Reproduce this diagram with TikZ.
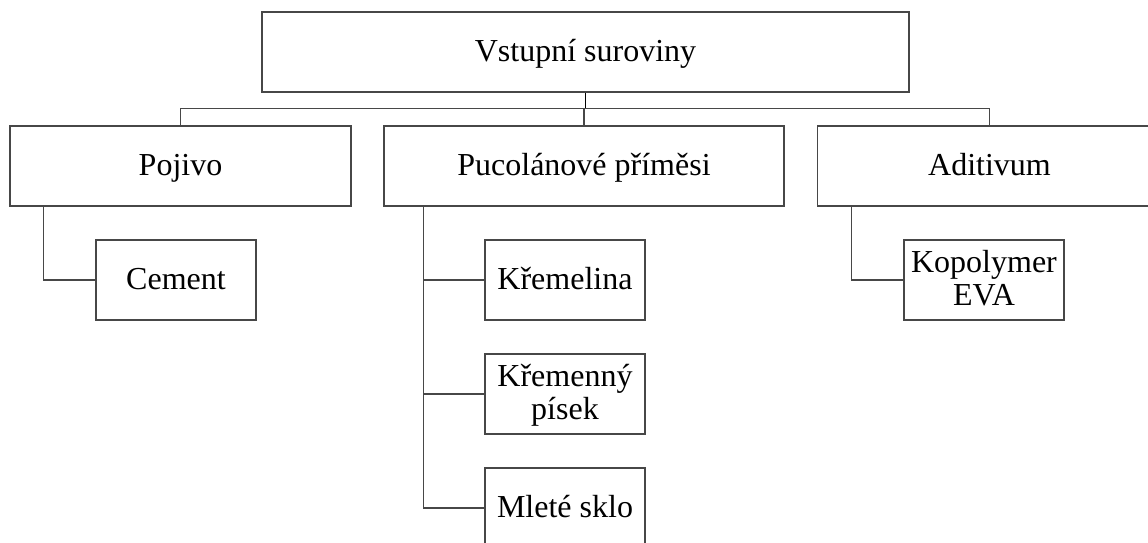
\documentclass[tikz,border=0pt]{standalone}
\usepackage{fontspec}
\setmainfont{Liberation Serif}
\begin{document}
\begin{tikzpicture}[x=1pt,y=-1pt,
  box/.style={draw=black!72, line width=1.1pt, rectangle, inner sep=0pt,
    minimum height=80pt, align=center, text=black,
    text height=24pt, text depth=6pt,
    font=\fontsize{32}{33.5}\selectfont},
  twoline/.style={text height=57.5pt},
  conn/.style={draw=black!72, line width=1.1pt},
  trunk/.style={draw=black, line width=1.6pt}]
\useasboundingbox (0,0) rectangle (1148,542);
\node[box, minimum width=647pt] (Top) at (585.5,52) {Vstupní suroviny};
\node[box, minimum width=341pt] (Pojivo) at (180.5,166) {Pojivo};
\node[box, minimum width=400pt] (Pucol) at (584,166) {Pucolánové příměsi};
\node[box, minimum width=344pt] (Aditivum) at (989.5,166) {Aditivum};
\node[box, minimum width=160pt] (Cement) at (176,280) {Cement};
\node[box, minimum width=160pt] (Kremelina) at (565,280) {Křemelina};
\node[box, twoline, minimum width=160pt] (Kremenny) at (565,394) {Křemenný\\písek};
\node[box, minimum width=160pt] (Mlete) at (565,508) {Mleté sklo};
\node[box, twoline, minimum width=160pt] (Kopolymer) at (984,280) {Kopolymer\\EVA};
\coordinate (bus) at (585.5,108.3);
\draw[trunk] (Top.south) -- (bus);
\draw[conn] (Pojivo.north) |- (bus) -| (Aditivum.north);
\draw[conn] (Pucol.north) -- (Pucol.north |- bus);
\draw[conn] (Cement.west) -| ([xshift=34pt]Pojivo.south west);
\draw[conn] (Kremelina.west) -| ([xshift=40.3pt]Pucol.south west);
\draw[conn] (Kremenny.west) -| ([xshift=40.3pt]Pucol.south west);
\draw[conn] (Mlete.west) -| ([xshift=40.3pt]Pucol.south west);
\draw[conn] (Kopolymer.west) -| ([xshift=34.5pt]Aditivum.south west);
\end{tikzpicture}
\end{document}
